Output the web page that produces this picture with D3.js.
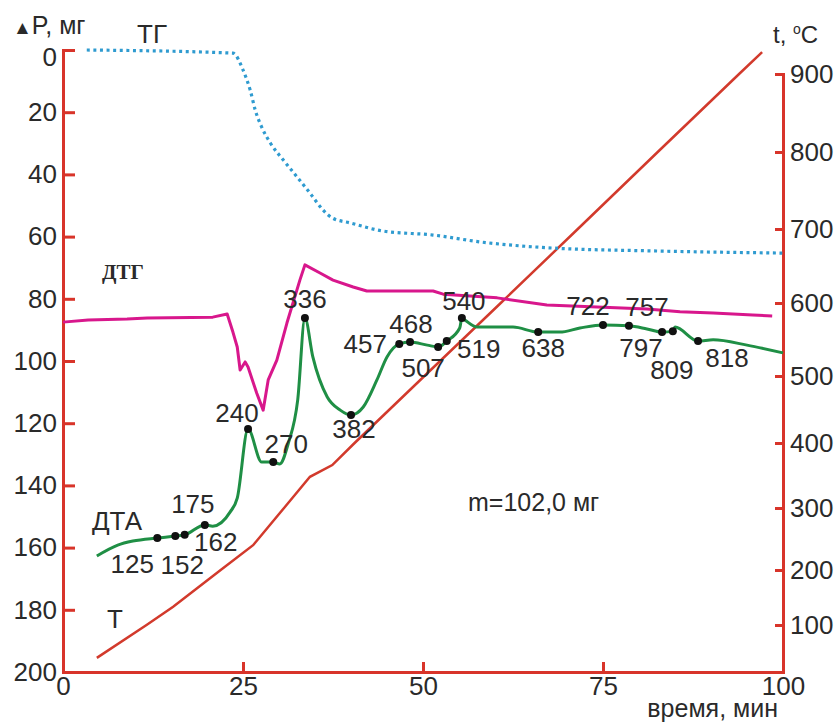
<!DOCTYPE html>
<html>
<head>
<meta charset="utf-8">
<script src="https://cdn.jsdelivr.net/npm/d3@7"></script>
<style>
  body { margin: 0; background: #fff; }
  text { font-family: "Liberation Sans", Arial, sans-serif; fill: #2a2a2a; }
  .axis path, .axis line { stroke: #d8342a; stroke-width: 3; }
  .axis text { font-size: 26px; }
</style>
</head>
<body>
<svg id="chart"></svg>
<script>
// time axis, min
var timeTicks = [0, 25, 50, 75, 100];
// left axis, mg
var massTicks = [0, 20, 40, 60, 80, 100, 120, 140, 160, 180, 200];
// right axis, deg C (uneven spacing in the original)
var tempTicks = [100, 200, 300, 400, 500, 600, 700, 800, 900];

// T curve (time, deg C)
var tTime = [4.7, 11.6, 15.3, 21.9, 26.4, 30.7, 34.3, 37.4, 40.5, 50.2, 60.8, 71.5, 82.6, 93.9, 97.1];
var tTemp = [30, 100, 133, 200, 240, 300, 348, 366, 400, 500, 600, 700, 800, 900, 928];

// TG curve (time, mg)
var tgTime = [3.3, 23.6, 25.0, 26.0, 26.7, 27.6, 28.8, 30.6, 32.5, 34.3, 36.1, 37.4, 39.9, 44.4, 51.4, 57.9, 68.1, 81.9, 99.9];
var tgVal = [0, 1, 6.4, 12.9, 19.3, 24.8, 29.9, 35.4, 40.8, 46.0, 51.4, 54.0, 55.6, 58.2, 59.5, 61.7, 63.7, 64.6, 65.3];

// DTG curve (time, plotted on mg scale)
var dtgTime = [0, 3.5, 8.9, 11.7, 20.8, 22.8, 23.6, 24.2, 24.6, 25.3, 25.7, 26.9, 27.8, 28.5, 29.7, 31.1, 32.9, 33.6, 35.7, 37.5, 40.3, 42.2, 51.4, 52.8, 60.3, 67.2, 74.2, 81.1, 85.7, 90.3, 95.8, 98.5];
var dtgVal = [87.5, 86.8, 86.5, 86.2, 85.9, 84.9, 90.7, 95.5, 102.9, 100.3, 101.9, 110.3, 115.8, 106.1, 99.7, 87.8, 74.0, 69.1, 71.7, 74.0, 76.2, 77.5, 77.5, 78.5, 79.7, 82.0, 82.6, 83.3, 84.2, 84.6, 85.2, 85.5];

// DTA curve (time, plotted on mg scale)
var dtaTime = [4.7, 7.6, 9.7, 13.1, 15.6, 16.9, 19.7, 20.8, 23.2, 24.2, 25.7, 27.6, 29.2, 30.1, 31.3, 32.6, 33.6, 34.7, 36.7, 38.5, 40.0, 41.7, 43.6, 45.0, 46.7, 48.2, 50.6, 52.1, 53.3, 55.1, 55.4, 55.8, 57.5, 62.5, 66.0, 69.0, 71.8, 75.0, 78.6, 81.1, 83.2, 84.7, 85.0, 88.2, 90.3, 95.0, 100];
var dtaVal = [162.7, 159.2, 157.9, 156.9, 156.3, 155.9, 152.7, 153.1, 148.6, 144.1, 121.9, 132.5, 132.5, 133.1, 126.4, 112.5, 86.2, 98.7, 111.6, 115.8, 117.4, 114.8, 106.1, 98.7, 94.5, 93.9, 94.9, 95.5, 93.6, 89.4, 86.2, 86.8, 89.1, 89.1, 90.7, 90.7, 89.4, 88.4, 88.7, 89.7, 90.7, 90.4, 89.1, 93.6, 93.2, 94.9, 97.4];

// marked points on DTA: temperature label, time, value
var peakTemp = [125, 152, 162, 175, 240, 270, 336, 382, 457, 468, 507, 519, 540, 638, 722, 757, 797, 809, 818];
var peakTime = [13.1, 15.6, 16.9, 19.7, 25.7, 29.2, 33.6, 40.0, 46.7, 48.2, 52.1, 53.3, 55.4, 66.0, 75.0, 78.6, 83.2, 84.7, 88.2];
var peakVal = [156.9, 156.3, 155.9, 152.7, 121.9, 132.5, 86.2, 117.4, 94.5, 93.9, 95.5, 93.6, 86.2, 90.7, 88.4, 88.7, 90.7, 90.4, 93.6];

// label nudges (px) for peak labels
var labelNudge = [[-25, 35], [7, 38], [31, 16], [-12, -12], [-11, -7], [13, -9], [0, -10], [3, 23], [-34, 9], [1, -9],
                  [-15, 30], [32, 17], [2, -8], [5, 25], [-15, -10], [18, -10], [-21, 25], [-1, 48], [29, 26]];

var W = 839, H = 722;
var plot = {left: 63, right: 783, top: 50, bottom: 672};

var svg = d3.select("#chart").attr("width", W).attr("height", H);

var x = d3.scaleLinear().domain([0, 100]).range([plot.left, plot.right]);
var yL = d3.scaleLinear().domain([0, 200]).range([plot.top, plot.bottom]);
// temperature axis in the source is not uniform, so piecewise scale
var yR = d3.scaleLinear()
    .domain([0].concat(tempTicks))
    .range([672, 625, 570, 508, 443, 376, 303, 229, 152, 74]);

var zip = function (a, b) { return a.map(function (v, i) { return [v, b[i]]; }); };

// axes
var leftAxis = svg.append("g").attr("class", "axis")
    .attr("transform", "translate(" + plot.left + ",0)")
    .call(d3.axisLeft(yL).tickValues(massTicks).tickSizeInner(-12).tickSizeOuter(0).tickPadding(6));
// top label sits a little lower in the original
leftAxis.selectAll(".tick text").filter(function (d) { return d === 0; }).attr("y", 7);
svg.append("g").attr("class", "axis")
    .attr("transform", "translate(0," + plot.bottom + ")")
    .call(d3.axisBottom(x).tickValues(timeTicks).tickSizeInner(-10).tickSizeOuter(0).tickPadding(5));
svg.append("g").attr("class", "axis")
    .attr("transform", "translate(" + plot.right + ",0)")
    .call(d3.axisRight(yR).tickValues(tempTicks).tickSizeInner(-8).tickSizeOuter(0).tickPadding(7));
svg.selectAll(".axis .domain").attr("stroke-linecap", "square");

// curves
var line = function (sx, sy) {
    return d3.line().x(function (d) { return sx(d[0]); }).y(function (d) { return sy(d[1]); });
};

svg.append("path").datum(zip(tTime, tTemp))
    .attr("d", line(x, yR)).attr("fill", "none")
    .attr("stroke", "#d23a2c").attr("stroke-width", 2.5);

svg.append("path").datum(zip(tgTime, tgVal))
    .attr("d", line(x, yL).curve(d3.curveMonotoneX)).attr("fill", "none")
    .attr("stroke", "#2f9bd0").attr("stroke-width", 3.2)
    .attr("stroke-dasharray", "3,3.6");

svg.append("path").datum(zip(dtgTime, dtgVal))
    .attr("d", line(x, yL)).attr("fill", "none")
    .attr("stroke", "#d8178c").attr("stroke-width", 3)
    .attr("stroke-linejoin", "round");

svg.append("path").datum(zip(dtaTime, dtaVal))
    .attr("d", line(x, yL).curve(d3.curveMonotoneX)).attr("fill", "none")
    .attr("stroke", "#1f8f45").attr("stroke-width", 3);

// marked points
var peaks = peakTemp.map(function (t, i) { return {t: t, time: peakTime[i], val: peakVal[i], n: labelNudge[i]}; });
svg.append("g").selectAll("circle").data(peaks).join("circle")
    .attr("cx", function (d) { return x(d.time); })
    .attr("cy", function (d) { return yL(d.val); })
    .attr("r", 4).attr("fill", "#111");
svg.append("g").selectAll("text").data(peaks).join("text")
    .attr("x", function (d) { return x(d.time) + d.n[0]; })
    .attr("y", function (d) { return yL(d.val) + d.n[1]; })
    .attr("text-anchor", "middle").attr("font-size", 26)
    .text(function (d) { return d.t; });

// titles and curve names
var lab = svg.append("g");
var dp = lab.append("text").attr("x", 13).attr("y", 34).attr("font-size", 25);
dp.append("tspan").attr("font-size", 19).text("▲");
dp.append("tspan").text("P, мг");
lab.append("text").attr("x", 137).attr("y", 43).attr("font-size", 26).text("ТГ");
var tc = lab.append("text").attr("x", 773).attr("y", 43).attr("font-size", 24);
tc.append("tspan").text("t, ");
tc.append("tspan").attr("font-size", 14).attr("dy", -9).text("o");
tc.append("tspan").attr("dy", 9).text("C");
lab.append("text").attr("x", 102).attr("y", 279).attr("font-size", 21)
    .attr("font-weight", "bold").style("font-family", "'Liberation Serif', 'Times New Roman', serif")
    .text("ДТГ");
lab.append("text").attr("x", 92).attr("y", 530).attr("font-size", 26).text("ДТА");
lab.append("text").attr("x", 107).attr("y", 628).attr("font-size", 26).text("Т");
lab.append("text").attr("x", 468).attr("y", 511).attr("font-size", 25).text("m=102,0 мг");
lab.append("text").attr("x", 778).attr("y", 717).attr("font-size", 25)
    .attr("text-anchor", "end").text("время, мин");
</script>
</body>
</html>
